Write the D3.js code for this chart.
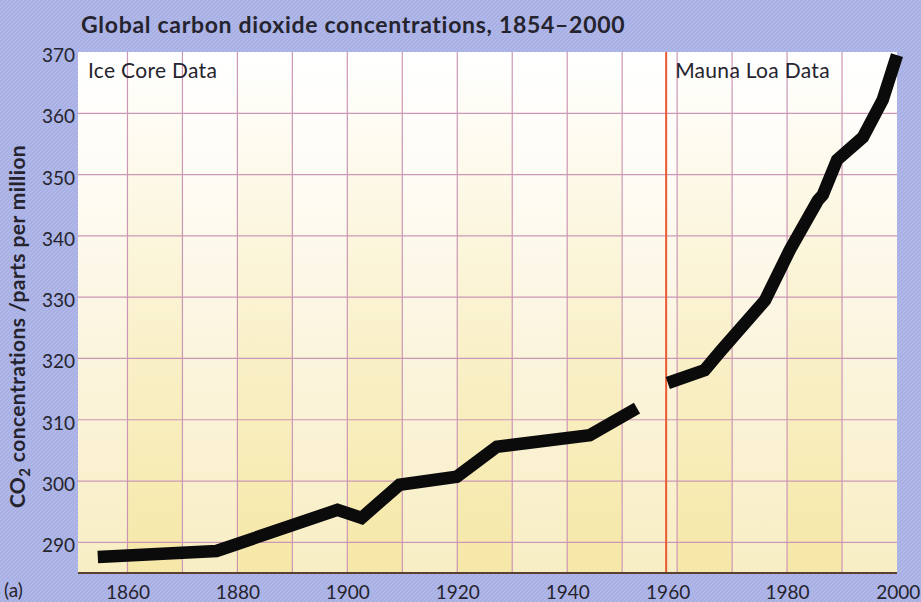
<!DOCTYPE html>
<html>
<head>
<meta charset="utf-8">
<script src="https://cdn.jsdelivr.net/npm/d3@7"></script>
<style>
  body { margin: 0; background: #a9b1e6; }
  svg { display: block; }
  text { font-family: Lato, "Open Sans", sans-serif; fill: #25242e; }
</style>
</head>
<body>
<svg id="chart" width="921" height="602"></svg>
<script>
// ice core record (years, ppm) and Mauna Loa record
var iceYears  = [1854.6, 1876.2, 1898.2, 1902.6, 1909.5, 1919.9, 1927.2, 1944.1, 1952.7];
var iceValues = [287.6, 288.6, 295.3, 294.0, 299.4, 300.7, 305.6, 307.5, 311.9];
var maunaYears  = [1958.3, 1965.0, 1968.1, 1976.0, 1980.5, 1985.6, 1986.5, 1989.1, 1993.8, 1997.4, 2000];
var maunaValues = [316.0, 318.1, 321.4, 329.5, 337.7, 345.8, 346.7, 352.4, 356.1, 362.2, 369.5];
var xTicks = [1860, 1880, 1900, 1920, 1940, 1960, 1980, 2000];
var yTicks = [290, 300, 310, 320, 330, 340, 350, 360, 370];
var splitYear = 1958;

var margin = { top: 52, right: 24, bottom: 29, left: 78 };
var fullwidth = 921, fullheight = 602;
var width = fullwidth - margin.left - margin.right;
var height = fullheight - margin.top - margin.bottom;

var svg = d3.select("#chart");
var defs = svg.append("defs");

// textured blue page
var pat = defs.append("pattern").attr("id", "tex")
    .attr("width", 4).attr("height", 4).attr("patternUnits", "userSpaceOnUse");
pat.append("rect").attr("width", 4).attr("height", 4).attr("fill", "#a9b0e4");
pat.append("path").attr("d", "M0,4 L4,0").attr("stroke", "#b6bdec").attr("stroke-width", 1);
svg.append("rect").attr("width", fullwidth).attr("height", fullheight).attr("fill", "url(#tex)");

var bg = defs.append("linearGradient").attr("id", "paper")
    .attr("x1", 0).attr("y1", 0).attr("x2", 0).attr("y2", 1);
bg.append("stop").attr("offset", "0%").attr("stop-color", "#ffffff");
bg.append("stop").attr("offset", "22%").attr("stop-color", "#fefcf6");
bg.append("stop").attr("offset", "60%").attr("stop-color", "#fbf4dc");
bg.append("stop").attr("offset", "100%").attr("stop-color", "#f8eec4");

var band = defs.append("linearGradient").attr("id", "band")
    .attr("x1", 0).attr("y1", 0).attr("x2", 0).attr("y2", 1);
band.append("stop").attr("offset", "0%").attr("stop-color", "#f4e27e").attr("stop-opacity", 0);
band.append("stop").attr("offset", "30%").attr("stop-color", "#f4e27e").attr("stop-opacity", 0.12);
band.append("stop").attr("offset", "100%").attr("stop-color", "#f1dc70").attr("stop-opacity", 0.35);

var g = svg.append("g")
    .attr("transform", "translate(" + margin.left + "," + margin.top + ")");

var xScale = d3.scaleLinear().domain([1851, 2000]).range([0, width]);
var yScale = d3.scaleLinear().domain([285, 370]).range([height, 0]);

g.append("rect").attr("width", width).attr("height", height).attr("fill", "url(#paper)");

// alternating yellow columns
var cols = d3.range(1850, 2000, 10);
g.selectAll(".band").data(cols.filter(function(d, i) { return i % 2 == 1; }))
  .enter().append("rect")
    .attr("class", "band")
    .attr("x", function(d) { return xScale(Math.max(d, 1851)); })
    .attr("width", function(d) { return xScale(d + 10) - xScale(Math.max(d, 1851)); })
    .attr("y", 0).attr("height", height)
    .attr("fill", "url(#band)");

// grid
g.selectAll(".vgrid").data(d3.range(1860, 2000, 10))
  .enter().append("line")
    .attr("x1", function(d) { return xScale(d); })
    .attr("x2", function(d) { return xScale(d); })
    .attr("y1", 0).attr("y2", height)
    .attr("stroke", "#cc97b6").attr("stroke-width", 1.2);
g.selectAll(".hgrid").data(d3.range(290, 370, 10))
  .enter().append("line")
    .attr("x1", 0).attr("x2", width)
    .attr("y1", function(d) { return yScale(d); })
    .attr("y2", function(d) { return yScale(d); })
    .attr("stroke", "#cc97b6").attr("stroke-width", 1.2);

// start of Mauna Loa record
g.append("line")
    .attr("x1", xScale(splitYear)).attr("x2", xScale(splitYear))
    .attr("y1", 0).attr("y2", height)
    .attr("stroke", "#ea5a32").attr("stroke-width", 2);

// bottom axis line
g.append("line").attr("x1", 0).attr("x2", width)
    .attr("y1", height).attr("y2", height)
    .attr("stroke", "#5b4030").attr("stroke-width", 2);

// axes (labels only)
var xAxis = d3.axisBottom(xScale).tickValues(xTicks).tickSize(0).tickPadding(10)
    .tickFormat(d3.format("d"));
var yAxis = d3.axisLeft(yScale).tickValues(yTicks).tickSize(0).tickPadding(3);

var gx = g.append("g").attr("transform", "translate(0," + height + ")").call(xAxis);
var gy = g.append("g").call(yAxis);
[gx, gy].forEach(function(a) {
  a.select(".domain").remove();
  a.selectAll("text").style("font-size", "19px").attr("fill", "#25242e")
    .style("font-family", "Lato, sans-serif");
});
gx.selectAll("text").attr("dy", "0.85em");
gx.selectAll("text").filter(function(d) { return d == 1960; }).attr("dx", "-0.5em");
gx.selectAll("text").filter(function(d) { return d == 2000; }).attr("text-anchor", "end").attr("dx", "1.2em");
gy.selectAll("text").attr("dy", "0.5em");

// lines
var line = d3.line()
    .x(function(d) { return xScale(d[0]); })
    .y(function(d) { return yScale(d[1]); });

[[iceYears, iceValues], [maunaYears, maunaValues]].forEach(function(s) {
  g.append("path")
    .datum(d3.zip(s[0], s[1]))
    .attr("d", line)
    .attr("fill", "none")
    .attr("stroke", "#0b0b0b")
    .attr("stroke-width", 12.5)
    .attr("stroke-linejoin", "miter")
    .attr("stroke-linecap", "butt");
});

// notes
g.append("text").attr("x", 10).attr("y", 26).style("font-size", "21px").style("letter-spacing", "0.3px").text("Ice Core Data");
g.append("text").attr("x", xScale(splitYear) + 9).attr("y", 26).style("font-size", "21px").style("letter-spacing", "0.3px").text("Mauna Loa Data");

// title
svg.append("text").attr("x", 81).attr("y", 33)
    .style("font-size", "23px").style("font-weight", "bold").style("letter-spacing", "0.7px")
    .text("Global carbon dioxide concentrations, 1854–2000");

// y label
var yl = svg.append("text")
    .attr("transform", "translate(25," + (margin.top + height / 2 + 14) + ") rotate(-90)")
    .attr("text-anchor", "middle")
    .style("font-size", "21px").style("font-weight", "bold").style("letter-spacing", "0.4px");
yl.append("tspan").text("CO");
yl.append("tspan").attr("dy", 5).style("font-size", "15px").text("2");
yl.append("tspan").attr("dy", -5).text(" concentrations /parts per million");

svg.append("text").attr("x", 4).attr("y", 597).style("font-size", "19px").text("(a)");
</script>
</body>
</html>
